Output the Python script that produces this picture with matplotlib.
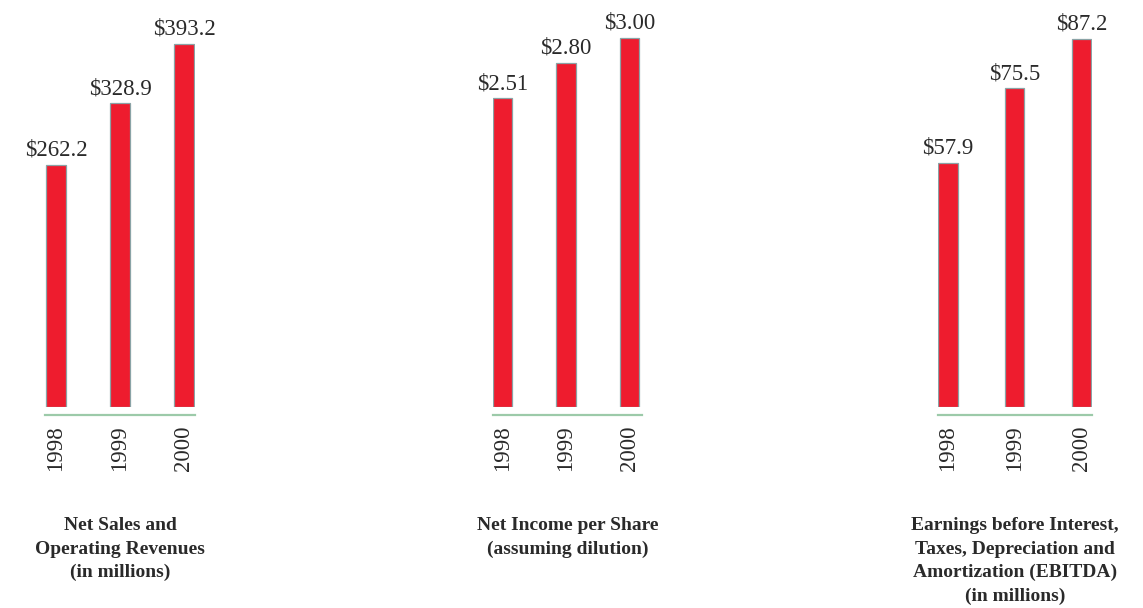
import matplotlib
matplotlib.use("Agg")
import matplotlib.pyplot as plt

plt.rcParams['font.family'] = ['Liberation Serif', 'DejaVu Serif']

years = ["1998", "1999", "2000"]

sales = [262.2, 328.9, 393.2]
sales_labels = ["$262.2", "$328.9", "$393.2"]

eps = [2.51, 2.80, 3.00]
eps_labels = ["$2.51", "$2.80", "$3.00"]

ebitda = [57.9, 75.5, 87.2]
ebitda_labels = ["$57.9", "$75.5", "$87.2"]

titles = [
    "Net Sales and\nOperating Revenues\n(in millions)",
    "Net Income per Share\n(assuming dilution)",
    "Earnings before Interest,\nTaxes, Depreciation and\nAmortization (EBITDA)\n(in millions)",
]

W, H = 1143, 608
fig = plt.figure(figsize=(W / 100, H / 100), dpi=100)

bar_color = "#ee1c2e"
edge_color = "#8aa3a6"
base_color = "#9ccaa9"
text_color = "#2a2a2a"

# panel layout in pixels: left, right, bar width, x limits, y max
panels = [
    (45, 195, 0.31, (-0.172, 2.172), 419.2, sales, sales_labels),
    (493, 642, 0.30, (-0.15, 2.197), 3.146, eps, eps_labels),
    (938, 1092, 0.29, (-0.15, 2.157), 91.7, ebitda, ebitda_labels),
]

bottom_px, top_px = 407, 20
for i, (l, r, bw, xl, ymax, vals, labs) in enumerate(panels):
    ax = fig.add_axes([l / W, 1 - bottom_px / H, (r - l) / W, (bottom_px - top_px) / H])
    # move spine first: set_position resets the ticks
    for s in ["left", "right", "top"]:
        ax.spines[s].set_visible(False)
    ax.spines["bottom"].set_position(("outward", 5.8))
    ax.spines["bottom"].set_color(base_color)
    ax.spines["bottom"].set_linewidth(1.6)
    ax.patch.set_alpha(0)

    x = list(range(len(years)))
    ax.bar(x, vals, width=bw, color=bar_color, edgecolor=edge_color, linewidth=0.9)
    for xi, v, t in zip(x, vals, labs):
        ax.annotate(t, (xi, v), xytext=(0, 6.5), textcoords="offset points",
                    ha="center", va="baseline", fontsize=16.5, color=text_color)
    ax.set_xlim(*xl)
    ax.set_ylim(0, ymax)
    ax.set_xticks(x)
    ax.set_xticklabels(years, rotation=90, fontsize=16.5, color=text_color)
    ax.tick_params(axis="x", length=0, pad=7.5)
    ax.set_yticks([])

    fig.text((l + r) / 2 / W, 1 - 517 / H, titles[i], ha="center", va="top",
             fontsize=14, fontweight="bold", linespacing=1.5, color=text_color)

fig.savefig("out.png", dpi=100)
